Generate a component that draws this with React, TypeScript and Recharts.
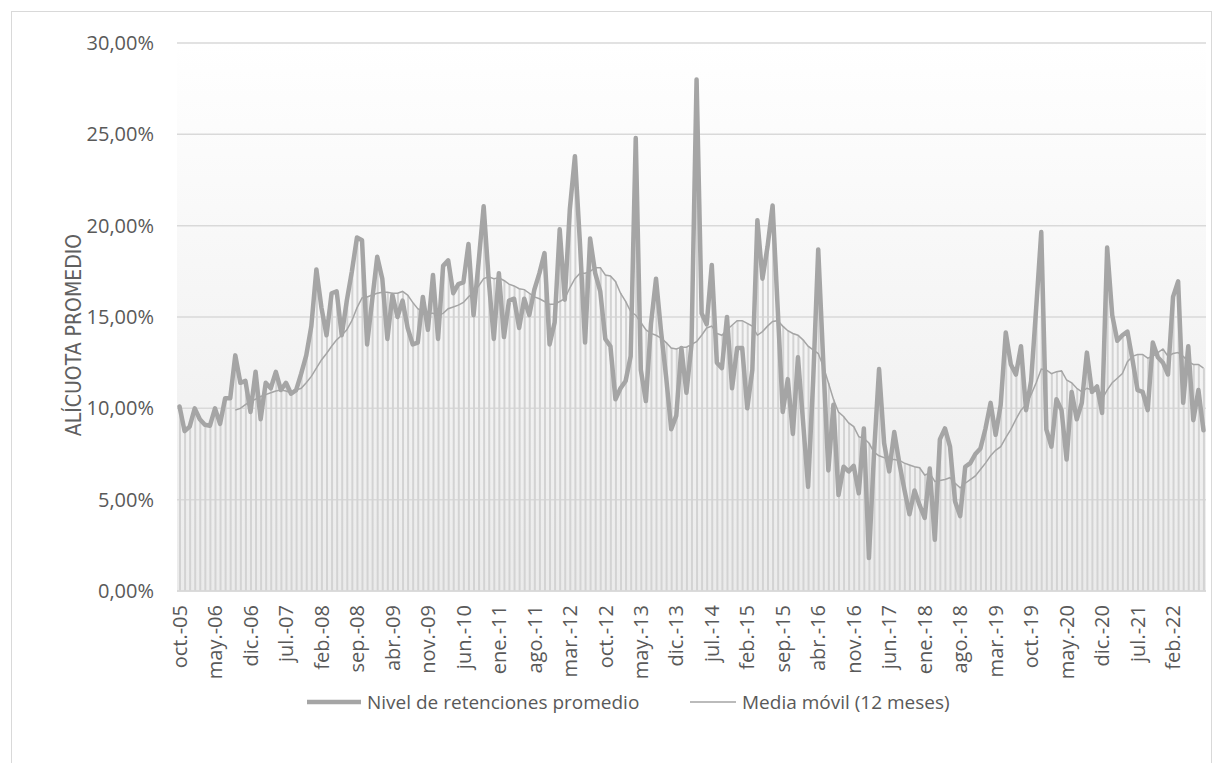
import React from 'react';
import { ComposedChart, Line, Bar, XAxis, YAxis, CartesianGrid } from 'recharts';

// Spanish month abbreviations used for the category labels
const MONTHS = ['ene', 'feb', 'mar', 'abr', 'may', 'jun', 'jul', 'ago', 'sep', 'oct', 'nov', 'dic'];
const START_YEAR = 2005;
const START_MONTH = 9; // octubre

// Nivel de retenciones promedio (%), monthly from oct-05
const retenciones: number[] = [
  10.1, 8.75, 9.0, 10.0, 9.4, 9.1, 9.05, 10.0, 9.15, 10.55,
  10.55, 12.9, 11.4, 11.5, 9.8, 12.0, 9.4, 11.4, 11.1, 12.0,
  11.0, 11.4, 10.8, 11.0, 11.9, 12.9, 14.5, 17.6, 15.5, 14.0,
  16.3, 16.4, 14.0, 15.9, 17.5, 19.35, 19.2, 13.5, 15.9, 18.3,
  17.1, 13.8, 16.2, 15.0, 15.9, 14.4, 13.5, 13.6, 16.1, 14.3,
  17.3, 13.8, 17.8, 18.1, 16.3, 16.8, 16.9, 19.0, 15.1, 18.0,
  21.06, 17.0, 13.8, 17.4, 13.9, 15.9, 16.0, 14.4, 16.0, 15.1,
  16.5, 17.4, 18.5, 13.5, 14.7, 19.8, 15.95, 20.9, 23.8, 19.0,
  13.6, 19.3, 17.4, 16.4, 13.8, 13.4, 10.5, 11.1, 11.5, 12.85,
  24.8, 12.1, 10.4, 14.6, 17.1, 14.2, 11.7, 8.85, 9.6, 13.3,
  10.85, 13.5, 28.0, 15.2, 14.6, 17.85, 12.5, 12.2, 15.0, 11.1,
  13.3, 13.3, 10.0, 12.1, 20.3, 17.1, 18.85, 21.1, 15.5, 9.8,
  11.6, 8.6, 12.8, 9.3, 5.7, 11.5, 18.7, 12.5, 6.6, 10.2,
  5.25, 6.8, 6.55, 6.85, 5.35, 8.9, 1.8, 7.5, 12.15, 8.1,
  6.55, 8.7, 7.0, 5.55, 4.2, 5.5, 4.7, 4.0, 6.7, 2.8,
  8.3, 8.9, 7.9, 4.9, 4.1, 6.8, 7.0, 7.5, 7.8, 8.9,
  10.3, 8.55, 10.2, 14.15, 12.4, 11.85, 13.4, 9.9, 11.5, 15.5,
  19.65, 8.85, 7.9, 10.5, 9.9, 7.2, 10.9, 9.4, 10.3, 13.05,
  10.9, 11.2, 9.75, 18.8, 15.1, 13.7, 14.0, 14.2, 12.65, 11.0,
  10.9, 9.9, 13.6, 12.8, 12.5, 11.85, 16.1, 16.95, 10.3, 13.4,
  9.35, 11.0, 8.8,
];

// Media móvil de 12 meses (%), sin valor en los primeros 11 meses
const mediaMovil: (number | null)[] = [
  null, null, null, null, null, null, null, null, null, null,
  null, 9.9, 10.0, 10.2, 10.4, 10.5, 10.65, 10.75, 10.85, 10.95,
  11.0, 10.95, 10.85, 11.0, 11.1, 11.4, 11.75, 12.2, 12.65, 13.0,
  13.4, 13.75, 14.0, 14.3, 14.8, 15.5, 16.05, 16.1, 16.2, 16.3,
  16.35, 16.35, 16.3, 16.3, 16.4, 16.2, 15.8, 15.45, 15.3, 15.2,
  15.2, 15.1, 15.2, 15.45, 15.55, 15.65, 15.8, 16.1, 16.35, 16.7,
  17.1, 17.2, 17.1, 17.15, 17.0, 16.8, 16.7, 16.55, 16.5, 16.3,
  16.1, 16.0, 15.85, 15.7, 15.7, 15.85, 16.0, 16.6, 17.1, 17.4,
  17.4, 17.5, 17.7, 17.7, 17.3, 17.25, 16.95, 16.3, 15.85, 15.3,
  15.1, 14.7, 14.3, 14.1, 14.0, 13.85, 13.6, 13.3, 13.25, 13.35,
  13.35, 13.5, 13.65, 14.0, 14.4, 14.5, 14.1, 14.0, 14.3, 14.55,
  14.8, 14.8, 14.65, 14.5, 14.0, 14.2, 14.5, 14.75, 14.8, 14.5,
  14.25, 14.1, 14.0, 13.75, 13.4, 13.2, 13.0, 12.3, 11.4, 10.5,
  9.8, 9.55, 9.2, 9.0, 8.45, 8.35, 8.1, 7.6, 7.4, 7.3,
  7.2, 7.2, 7.15, 7.0, 6.9, 6.8, 6.75, 6.35, 6.45, 6.0,
  6.05, 6.1, 6.2, 5.9, 5.65, 5.9, 6.1, 6.3, 6.65, 7.0,
  7.4, 7.7, 7.9, 8.4, 8.85, 9.4, 9.9, 10.2, 10.75, 11.4,
  12.15, 12.1, 11.9, 12.0, 12.05, 11.55, 11.4, 11.1, 10.9, 11.1,
  11.0, 10.9, 10.5, 11.0, 11.4, 11.65, 11.9, 12.55, 12.85, 12.95,
  12.95, 12.75, 12.85, 13.05, 13.25, 12.85, 13.0, 13.05, 12.85, 12.55,
  12.4, 12.4, 12.2,
];

const yTicks = [0, 5, 10, 15, 20, 25, 30];

const mesLabel = (i: number) => {
  const k = START_MONTH + i;
  const m = k % 12;
  const y = START_YEAR + Math.floor(k / 12);
  return `${MONTHS[m]}.-${String(y % 100).padStart(2, '0')}`;
};

const data = retenciones.map((v, i) => {
  const media = mediaMovil[i];
  return {
    mes: mesLabel(i),
    nivel: v,
    media,
    // drop line reaches the highest series at each month
    caida: Math.max(v, media ?? 0),
  };
});

const FONT = '"Open Sans", "Noto Sans", sans-serif';
const TEXT = '#595959';
const SERIES = '#a5a5a5';

const fmtPct = (v: number) => `${v.toFixed(2).replace('.', ',')}%`;

const MonthTick = (props: any) => {
  const { x, y, payload } = props;
  return (
    <text
      x={x}
      y={y + 6}
      transform={`rotate(-90, ${x}, ${y + 6})`}
      textAnchor="end"
      dy="0.36em"
      fill={TEXT}
      fontSize={20}
      fontFamily={FONT}
    >
      {payload.value}
    </text>
  );
};

// Vertical axis title in a narrow face
const AxisTitle = (props: any) => {
  const vb = props.viewBox || {};
  const cx = 73;
  const cy = (vb.y ?? 0) + (vb.height ?? 0) / 2 + 18;
  return (
    <text
      x={cx}
      y={cy}
      transform={`rotate(-90, ${cx}, ${cy})`}
      textAnchor="middle"
      dy="0.36em"
      fill="#606060"
      fontSize={21}
      fontFamily='"Liberation Sans Narrow", "DejaVu Sans Condensed", sans-serif'
    >
      ALÍCUOTA PROMEDIO
    </text>
  );
};

export default function App() {
  return (
    <div style={{ position: 'absolute', left: 0, top: 0, width: 1223, height: 763, overflow: 'hidden', background: '#fff' }}>
      <div
        style={{
          position: 'absolute',
          left: 11,
          top: 11,
          width: 1201,
          height: 780,
          border: '1px solid #d9d9d9',
          boxSizing: 'border-box',
        }}
      />
      <div style={{ position: 'absolute', left: 0, top: 0 }}>
        <ComposedChart
          width={1223}
          height={763}
          data={data}
          margin={{ top: 43, right: 17, bottom: 0, left: 0 }}
          barCategoryGap={0}
        >
          <defs>
            <linearGradient id="plotBg" x1="0" y1="0" x2="0" y2="1">
              <stop offset="0%" stopColor="#ffffff" />
              <stop offset="100%" stopColor="#ebebeb" />
            </linearGradient>
          </defs>
          <CartesianGrid
            vertical={false}
            stroke="#d9d9d9"
            strokeWidth={1.5}
            fill="url(#plotBg)"
            fillOpacity={1}
          />
          <XAxis
            dataKey="mes"
            interval={6}
            height={172}
            tickLine={false}
            axisLine={{ stroke: '#d9d9d9', strokeWidth: 1.5 }}
            tick={<MonthTick />}
          />
          <YAxis
            width={177}
            domain={[0, 30]}
            ticks={yTicks}
            tickFormatter={fmtPct}
            axisLine={false}
            tickLine={false}
            tickSize={0}
            tickMargin={23}
            tick={{ fill: TEXT, fontSize: 20, fontFamily: FONT }}
            label={<AxisTitle />}
          />
          <Bar dataKey="caida" barSize={2} fill="#d3d3d3" isAnimationActive={false} />
          <Line
            type="linear"
            dataKey="nivel"
            stroke={SERIES}
            strokeWidth={4.5}
            strokeLinejoin="round"
            strokeLinecap="round"
            dot={false}
            activeDot={false}
            isAnimationActive={false}
          />
          <Line
            type="linear"
            dataKey="media"
            stroke={SERIES}
            strokeWidth={1.5}
            dot={false}
            activeDot={false}
            isAnimationActive={false}
          />
        </ComposedChart>
      </div>
      <div
        style={{
          position: 'absolute',
          left: 0,
          top: 688,
          width: 1223,
          height: 28,
          fontFamily: FONT,
          fontSize: 19,
          color: TEXT,
        }}
      >
        <div style={{ position: 'absolute', left: 307, top: 0, display: 'flex', alignItems: 'center', height: 28 }}>
          <svg width={54} height={8} style={{ marginRight: 6 }}>
            <line x1={0} y1={4} x2={54} y2={4} stroke={SERIES} strokeWidth={4.5} />
          </svg>
          <span>Nivel de retenciones promedio</span>
        </div>
        <div style={{ position: 'absolute', left: 690, top: 0, display: 'flex', alignItems: 'center', height: 28 }}>
          <svg width={46} height={8} style={{ marginRight: 6 }}>
            <line x1={0} y1={4} x2={46} y2={4} stroke={SERIES} strokeWidth={1.5} />
          </svg>
          <span>Media móvil (12 meses)</span>
        </div>
      </div>
    </div>
  );
}
